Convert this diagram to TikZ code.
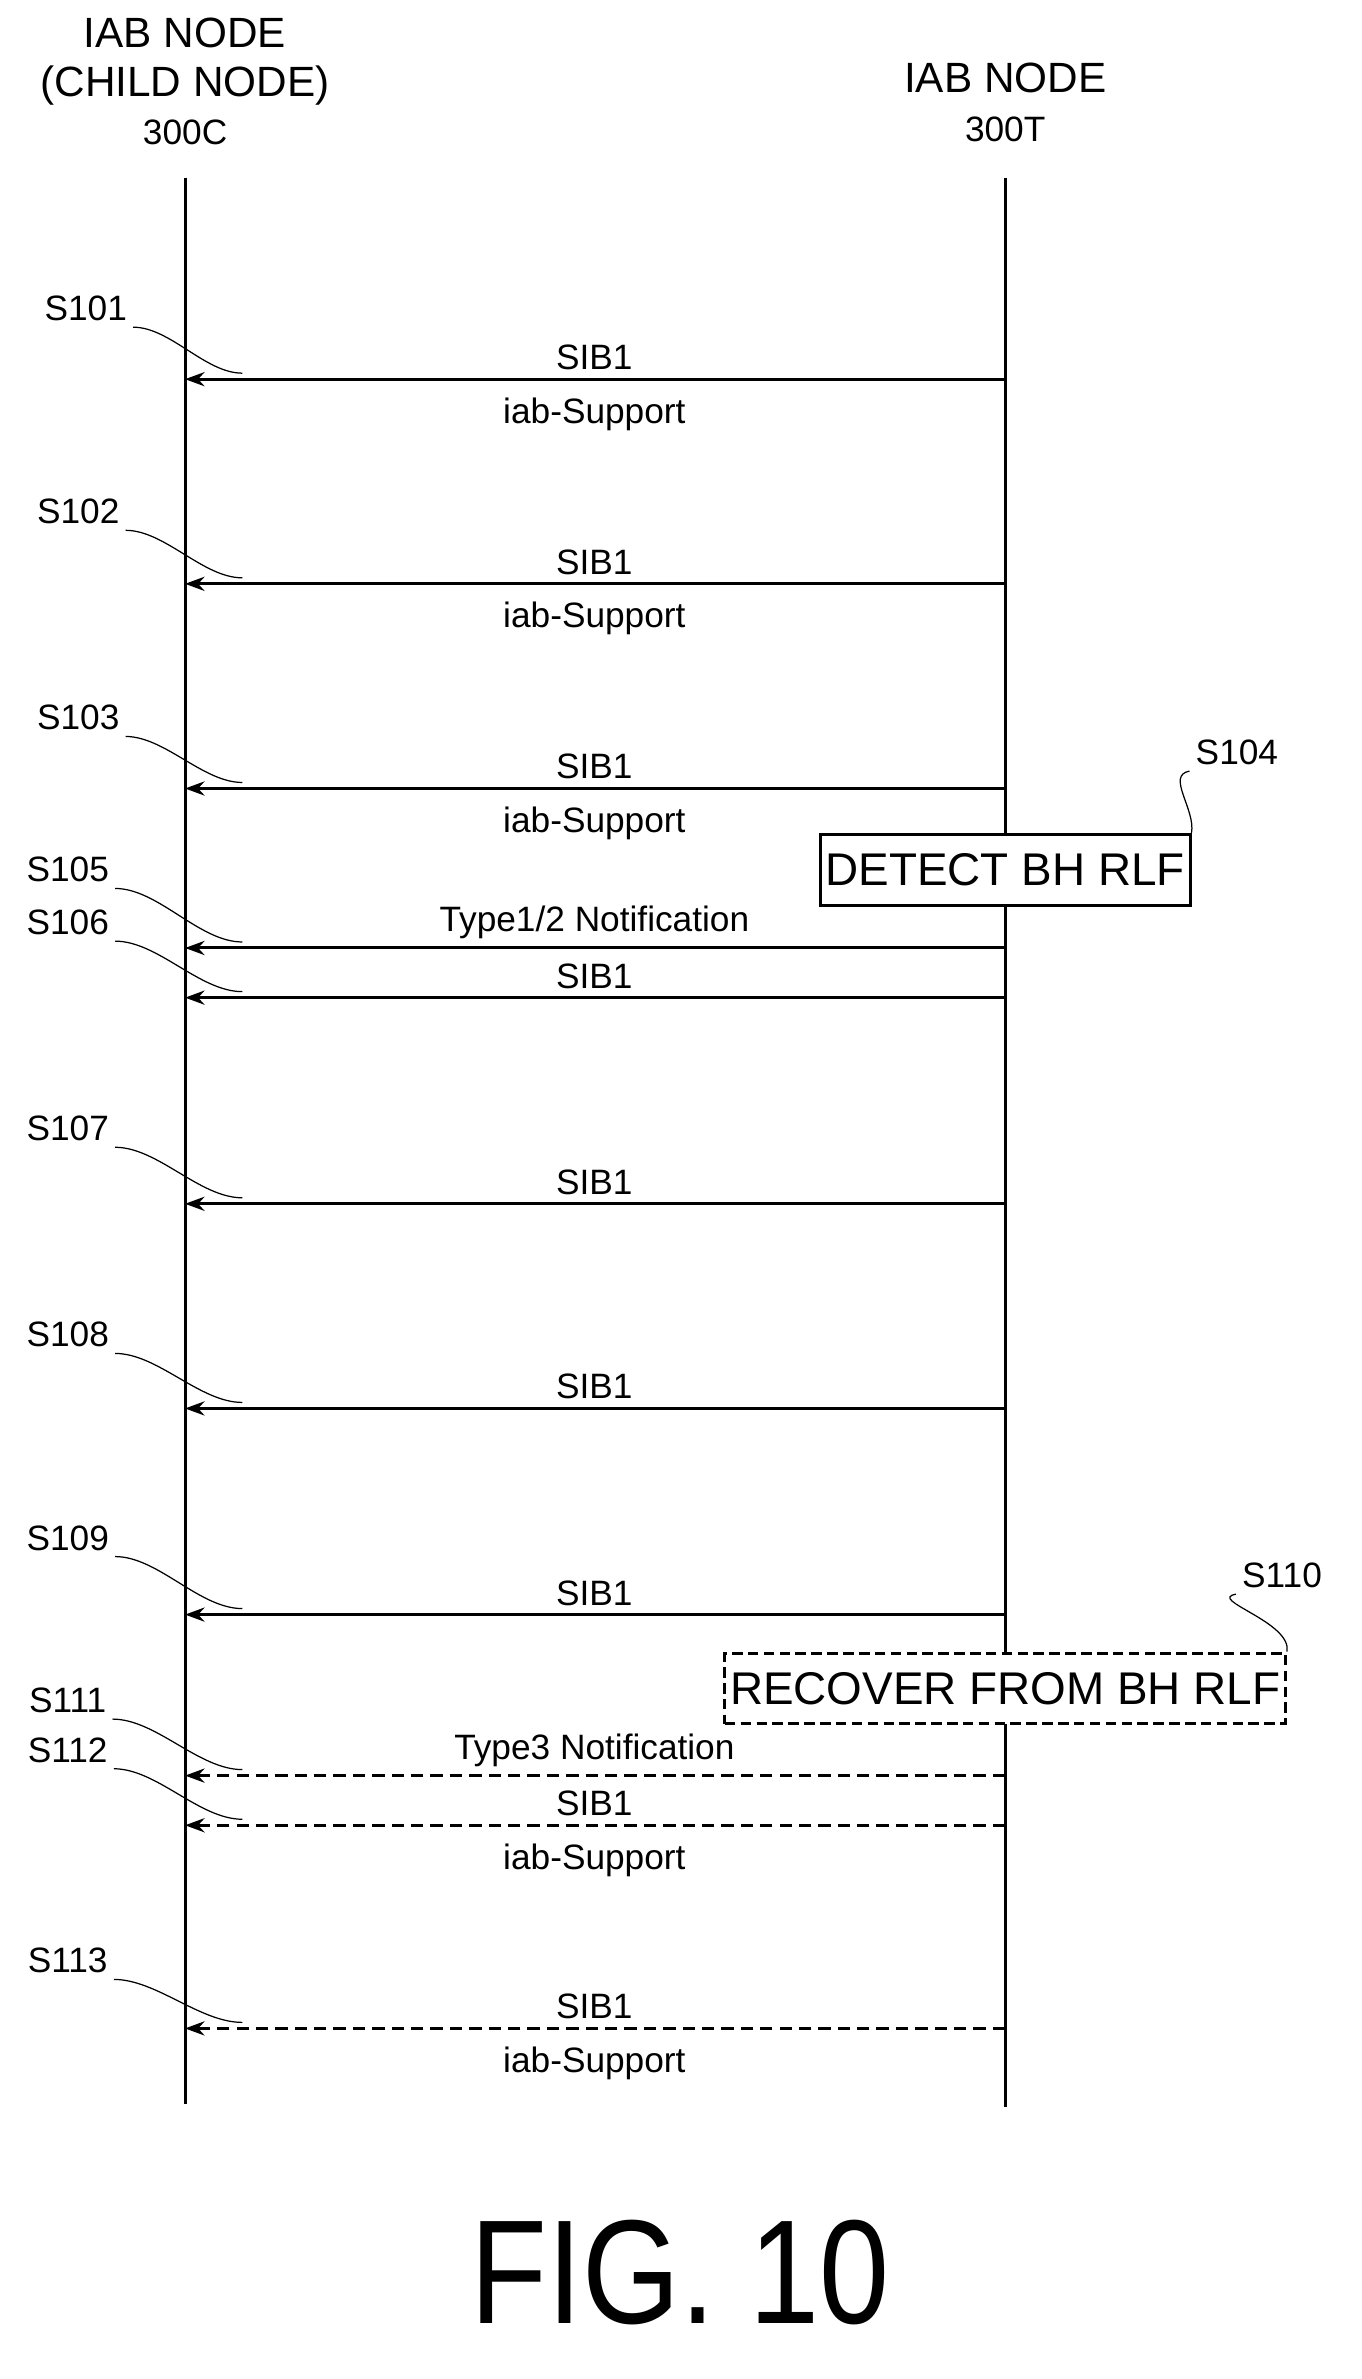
\documentclass[tikz,border=0pt]{standalone}
\usepackage{fontspec}
\setmainfont{Liberation Sans}
\usetikzlibrary{arrows.meta,positioning,calc}
\tikzset{
	msg/.style = {draw, line width=1.7pt, -{Stealth[length=11pt,width=8pt]}},
	dmsg/.style = {msg, dashed, dash pattern=on 7pt off 4pt},
	lbl/.style = {font=\fontsize{20}{22}\selectfont},
	steplbl/.style = {font=\fontsize{20}{22}\selectfont},
	lead/.style = {draw, line width=0.7pt},
	act/.style = {draw, fill=white, line width=1.7pt, font=\fontsize{26}{28}\selectfont, inner sep=3pt, minimum height=40pt}
}
\begin{document}
\begin{tikzpicture}[x=0.03cm, y=-0.03cm]
\useasboundingbox (0,0) rectangle (905,1581);

% headers
\node[lbl, font=\fontsize{24}{26}\selectfont] (hc1) at (123,22) {IAB NODE};
\node[lbl, font=\fontsize{24}{26}\selectfont] (hc2) at (123,57) {(CHILD NODE)};
\node[lbl] (hc3) at (123,88) {300C};
\node[lbl, font=\fontsize{24}{26}\selectfont] (ht1) at (668,52) {IAB NODE};
\node[lbl] (ht2) at (668,86) {300T};

% lifelines
\coordinate (ctop) at (123,118); \coordinate (cbot) at (123,1398);
\coordinate (ttop) at (668,118); \coordinate (tbot) at (668,1400);
\draw[line width=1.7pt] (ctop) -- (cbot);
\draw[line width=1.7pt] (ttop) -- (tbot);

% messages: y / label / style / lower label
\foreach \n/\y/\t/\s/\u in {
	a/252/SIB1/msg/iab-Support,
	b/388/SIB1/msg/iab-Support,
	c/524/SIB1/msg/iab-Support,
	d/630/{Type1/2 Notification}/msg/,
	e/663/SIB1/msg/,
	f/800/SIB1/msg/,
	g/936/SIB1/msg/,
	h/1073/SIB1/msg/,
	i/1180/Type3 Notification/dmsg/,
	j/1213/SIB1/dmsg/iab-Support,
	k/1348/SIB1/dmsg/iab-Support}
{
	\coordinate (s\n) at (668,\y);
	\coordinate (e\n) at (123,\y);
	\draw[\s] (s\n) -- (e\n);
	\node[lbl, anchor=south] (m\n) at (395,\y-2) {\t};
	\node[lbl, anchor=north] (u\n) at (395,\y+8) {\u};
}

% step labels with leaders
\foreach \n/\x/\y/\t in {
	a/57/205/S101, b/52/340/S102, c/52/477/S103, d/45/578/S105, e/45/613/S106,
	f/45/750/S107, g/45/887/S108, h/45/1022/S109, i/45/1130/S111, j/45/1163/S112,
	k/45/1303/S113}
{
	\node[steplbl] (l\n) at (\x,\y) {\t};
	\draw[lead] (l\n.south east) to[out=0, in=180, looseness=0.8] ($(e\n)+(38,-4)$);
}

% actions at 300T
\node[act] (detect) at (668,578) {DETECT BH RLF};
\node[steplbl] (l104) at (822,500) {S104};
\draw[lead] (l104.south west) to[out=190, in=80] (detect.north east);

\node[act, dashed, dash pattern=on 6pt off 3pt] (recover) at (668,1122) {RECOVER FROM BH RLF};
\node[steplbl] (l110) at (852,1047) {S110};
\draw[lead] (l110.south west) to[out=190, in=80] (recover.north east);

% title
\node[font=\fontsize{84}{90}\selectfont, xscale=0.85] (fig) at (452,1510) {FIG. 10};
\end{tikzpicture}
\end{document}
